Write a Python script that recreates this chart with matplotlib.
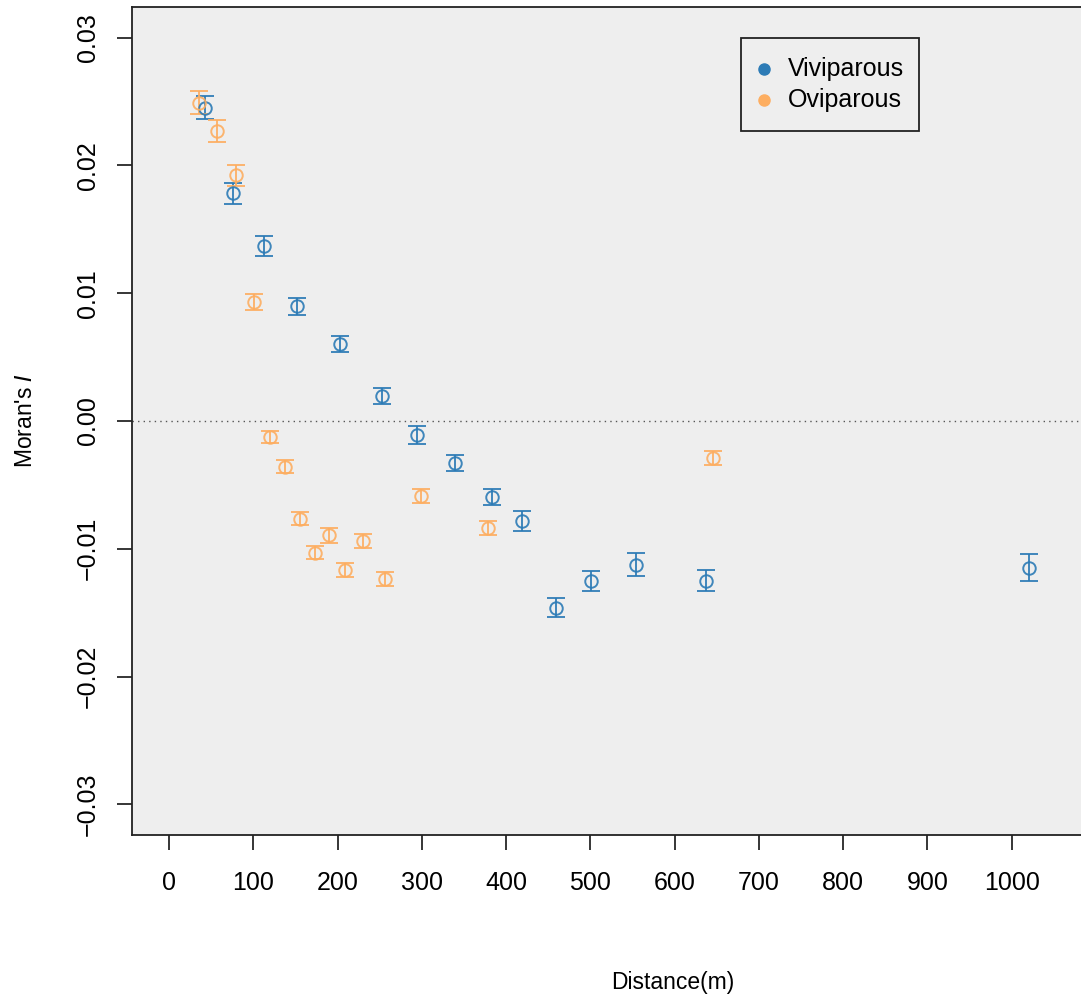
import matplotlib
matplotlib.use("Agg")
import matplotlib.pyplot as plt
from matplotlib.patches import Rectangle

plt.rcParams["font.family"] = ["Liberation Sans", "DejaVu Sans"]

# ── Data ───────────────────────────────────────────────────────────────────────
viv_dist = [42.7, 75.8, 112.6, 151.7, 202.6, 252.4, 293.8, 338.9, 382.7, 419.4,
            459.7, 501.2, 554.5, 637.4, 1020.1]
viv_moran = [0.02453, 0.01781, 0.01367, 0.00898, 0.00602, 0.00195, -0.00109,
             -0.00328, -0.00594, -0.00781, -0.01461, -0.01250, -0.01125,
             -0.01250, -0.01148]
viv_err = [0.00090, 0.00080, 0.00077, 0.00066, 0.00062, 0.00062, 0.00069,
           0.00061, 0.00065, 0.00078, 0.00073, 0.00080, 0.00089, 0.00083,
           0.00104]

ovi_dist = [35.5, 56.9, 79.4, 100.7, 119.7, 137.4, 155.2, 173.0, 189.6, 208.5,
            229.9, 255.9, 298.6, 378.0, 645.7]
ovi_moran = [0.02492, 0.02266, 0.01922, 0.00930, -0.00125, -0.00359, -0.00764,
             -0.01031, -0.00896, -0.01164, -0.00936, -0.01239, -0.00586,
             -0.00836, -0.00289]
ovi_err = [0.00090, 0.00086, 0.00079, 0.00063, 0.00050, 0.00050, 0.00052,
           0.00050, 0.00055, 0.00055, 0.00055, 0.00055, 0.00055, 0.00055,
           0.00058]

groups = ["Viviparous", "Oviparous"]
x_ticks = [0, 100, 200, 300, 400, 500, 600, 700, 800, 900, 1000]
y_ticks = [-0.03, -0.02, -0.01, 0.00, 0.01, 0.02, 0.03]
y_labels = ["\u22120.03", "\u22120.02", "\u22120.01", "0.00", "0.01", "0.02", "0.03"]

C_VIV = "#2C7BB6"
C_OVI = "#FDAE61"

W, H = 1081, 998
fig = plt.figure(figsize=(W / 100, H / 100), dpi=100)
fig.patch.set_facecolor("white")


def fx(px):
    return px / W


def fy(py):
    return 1 - py / H


# axes in pixel terms (right side runs off the image like in the reference)
ax = fig.add_axes([132 / W, 163 / H, 1001 / W, 828 / H])
ax.set_facecolor("#EEEEEE")
ax.set_xlim(-44, 1144)
ax.set_ylim(-0.0324, 0.0324)

ax.axhline(0, color="#555555", lw=1.0, ls=(0, (1, 3)), zorder=1)

for xs, ys, es, col in [(viv_dist, viv_moran, viv_err, C_VIV),
                        (ovi_dist, ovi_moran, ovi_err, C_OVI)]:
    ax.errorbar(xs, ys, yerr=es, fmt="o", ms=9, mfc="none", mec=col,
                mew=1.4, ecolor=col, elinewidth=1.4, capsize=6.5, capthick=1.4,
                alpha=0.9, zorder=3)

for s in ax.spines.values():
    s.set_linewidth(1.3)
    s.set_color("#222222")

ax.set_xticks(x_ticks)
ax.set_xticklabels([str(t) for t in x_ticks])
ax.set_yticks(y_ticks)
ax.set_yticklabels(y_labels, rotation=90, va="center")
ax.tick_params(axis="x", length=11, width=1.1, pad=15, labelsize=18)
ax.tick_params(axis="y", length=11, width=1.1, pad=12, labelsize=18)

fig.text(fx(673), fy(982), "Distance(m)", fontsize=16.5,
         ha="center", va="center")
fig.text(fx(25), fy(420), "Moran's $\\mathit{I}$", fontsize=16.5,
         rotation=90, ha="center", va="center")

# ── Legend, drawn R-style ──────────────────────────────────────────────────────
fig.patches.append(Rectangle((fx(741), fy(131)), fx(919) - fx(741),
                             fy(38) - fy(131), transform=fig.transFigure,
                             facecolor="#EEEEEE", edgecolor="#222222",
                             linewidth=1.3, zorder=5))
for name, col, py in zip(groups, [C_VIV, C_OVI], [69, 100]):
    fig.lines.append(plt.Line2D([fx(764)], [fy(py)], marker="o", ms=8,
                                color=col, ls="none",
                                transform=fig.transFigure, zorder=6))
    fig.text(fx(788), fy(py), name, fontsize=18, ha="left", va="center",
             zorder=6)

fig.savefig("out.png", dpi=100)
